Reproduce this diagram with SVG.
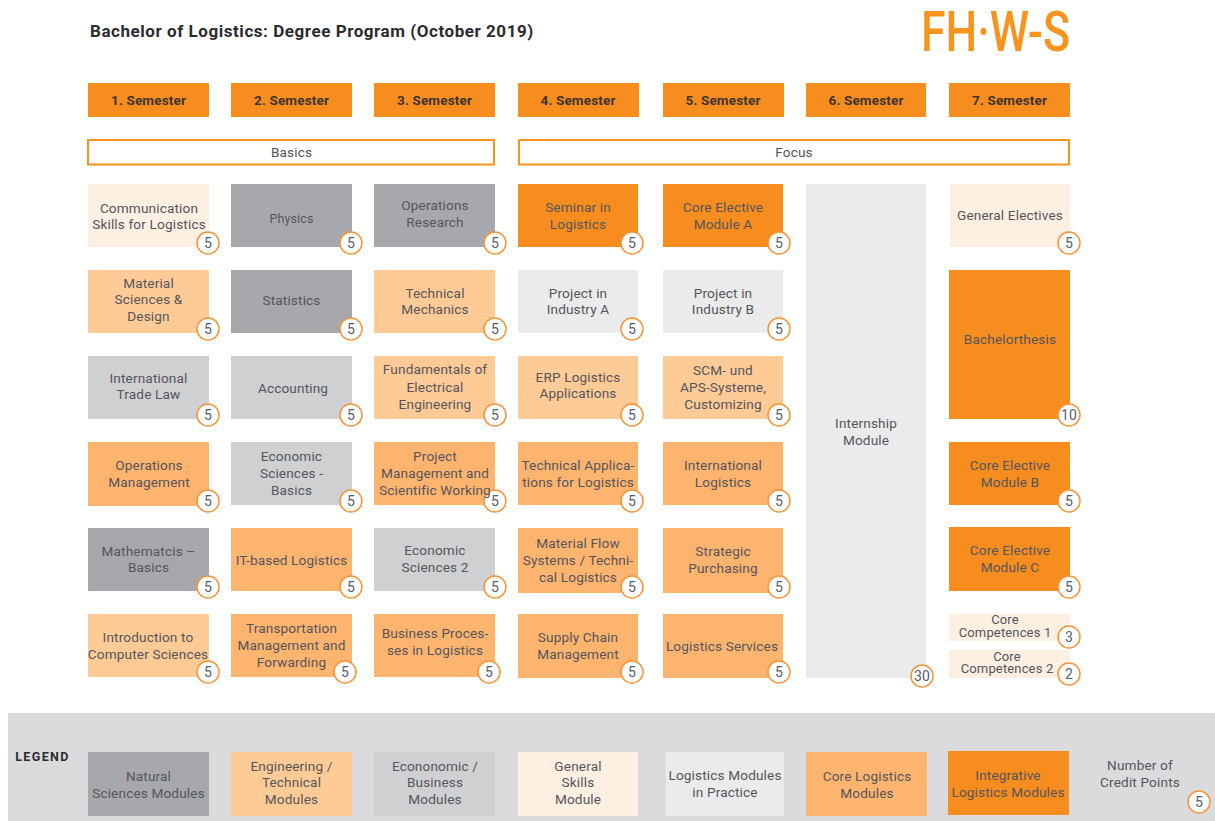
<svg xmlns="http://www.w3.org/2000/svg" width="1215" height="821" viewBox="0 0 1215 821">
<style>
text{font-family:Roboto,"Liberation Sans",sans-serif;text-anchor:middle;font-size:13.6px;fill:#55555c;letter-spacing:.15px}
.sem rect{fill:#f78d1e}.sem text{font-weight:700;font-size:13.5px;fill:#40342c}
.band rect{fill:#fff;stroke:#f7941e;stroke-width:2}
.g1{fill:#a7a8ab}.g2{fill:#cfd0d2}.g3{fill:#ebebeb}.o1{fill:#fecb96}.o2{fill:#fdb46f}.o3{fill:#f78d1e}.p{fill:#fdf0e2}
.b circle{fill:#fff;stroke:#f7943a;stroke-width:1.5}
.b text{font-size:14px;fill:#55606e}
.cc{font-size:13px}
</style>
<rect id="legend-band" x="8" y="713" width="1207" height="108" fill="#dbdbdd"/>
<text id="title" x="90" y="37" style="text-anchor:start;font-weight:700;font-size:17px;letter-spacing:.55px;fill:#2b2b30">Bachelor of Logistics: Degree Program (October 2019)</text>
<g id="logo"><text x="921" y="51" textLength="149" lengthAdjust="spacingAndGlyphs" style="text-anchor:start;font-size:56px;font-weight:500;fill:#f7941e;letter-spacing:0">FH·W-S</text></g>

<g id="sem1" class="sem"><rect x="88" y="83" width="121" height="34"/><text x="148.5" y="105">1. Semester</text></g>
<g id="sem2" class="sem"><rect x="231" y="83" width="121" height="34"/><text x="291.5" y="105">2. Semester</text></g>
<g id="sem3" class="sem"><rect x="374" y="83" width="121" height="34"/><text x="434.5" y="105">3. Semester</text></g>
<g id="sem4" class="sem"><rect x="518" y="83" width="121" height="34"/><text x="578" y="105">4. Semester</text></g>
<g id="sem5" class="sem"><rect x="663" y="83" width="121" height="34"/><text x="723" y="105">5. Semester</text></g>
<g id="sem6" class="sem"><rect x="806" y="83" width="120" height="34"/><text x="866" y="105">6. Semester</text></g>
<g id="sem7" class="sem"><rect x="949" y="83" width="121" height="34"/><text x="1009.5" y="105">7. Semester</text></g>

<g id="basics" class="band"><rect x="88" y="140" width="406" height="24.5"/><text x="291.5" y="157">Basics</text></g>
<g id="focus" class="band"><rect x="519" y="140" width="550" height="24.5"/><text x="794" y="157">Focus</text></g>

<g id="communication"><rect class="p" x="88" y="184" width="121" height="63"/><text x="149" y="213">Communication</text><text x="149" y="229">Skills for Logistics</text><g class="b"><circle cx="208" cy="243" r="11"/><text x="208" y="248">5</text></g></g>
<g id="material-sciences"><rect class="o1" x="88" y="270" width="121" height="63"/><text x="148.5" y="288">Material</text><text x="148.5" y="304">Sciences &amp;</text><text x="148.5" y="321">Design</text><g class="b"><circle cx="208" cy="329" r="11"/><text x="208" y="334">5</text></g></g>
<g id="trade-law"><rect class="g2" x="88" y="356" width="121" height="63"/><text x="148.5" y="383">International</text><text x="148.5" y="399">Trade Law</text><g class="b"><circle cx="208" cy="415" r="11"/><text x="208" y="420">5</text></g></g>
<g id="operations-management"><rect class="o2" x="88" y="442" width="121" height="64"/><text x="149" y="470">Operations</text><text x="149" y="487">Management</text><g class="b"><circle cx="208" cy="501" r="11"/><text x="208" y="506">5</text></g></g>
<g id="mathematics"><rect class="g1" x="88" y="528" width="121" height="63"/><text x="148.5" y="556">Mathematcis –</text><text x="148.5" y="572">Basics</text><g class="b"><circle cx="208" cy="587" r="11"/><text x="208" y="592">5</text></g></g>
<g id="computer-sciences"><rect class="o1" x="88" y="614" width="121" height="63"/><text x="148" y="642">Introduction to</text><text x="148" y="659">Computer Sciences</text><g class="b"><circle cx="208" cy="672" r="11"/><text x="208" y="677">5</text></g></g>

<g id="physics"><rect class="g1" x="231" y="184" width="121" height="63"/><text x="291.5" y="223" style="font-size:12.5px">Physics</text><g class="b"><circle cx="351" cy="243" r="11"/><text x="351" y="248">5</text></g></g>
<g id="statistics"><rect class="g1" x="231" y="270" width="121" height="63"/><text x="291.5" y="305">Statistics</text><g class="b"><circle cx="351" cy="329" r="11"/><text x="351" y="334">5</text></g></g>
<g id="accounting"><rect class="g2" x="231" y="356" width="121" height="63"/><text x="293" y="393">Accounting</text><g class="b"><circle cx="351" cy="415" r="11"/><text x="351" y="420">5</text></g></g>
<g id="economic-basics"><rect class="g2" x="231" y="442" width="121" height="63"/><text x="291.5" y="461">Economic</text><text x="291.5" y="478">Sciences -</text><text x="291.5" y="495">Basics</text><g class="b"><circle cx="351" cy="501" r="11"/><text x="351" y="506">5</text></g></g>
<g id="it-logistics"><rect class="o2" x="231" y="528" width="121" height="63"/><text x="291.5" y="565">IT-based Logistics</text><g class="b"><circle cx="351" cy="587" r="11"/><text x="351" y="592">5</text></g></g>
<g id="transportation"><rect class="o2" x="231" y="614" width="121" height="63"/><text x="291.5" y="633">Transportation</text><text x="291.5" y="650">Management and</text><text x="291.5" y="667">Forwarding</text><g class="b"><circle cx="345" cy="672" r="11"/><text x="345" y="677">5</text></g></g>

<g id="operations-research"><rect class="g1" x="374" y="184" width="121" height="63"/><text x="435" y="210">Operations</text><text x="435" y="227">Research</text><g class="b"><circle cx="495" cy="243" r="11"/><text x="495" y="248">5</text></g></g>
<g id="technical-mechanics"><rect class="o1" x="374" y="270" width="121" height="63"/><text x="435" y="298">Technical</text><text x="435" y="314">Mechanics</text><g class="b"><circle cx="495" cy="329" r="11"/><text x="495" y="334">5</text></g></g>
<g id="electrical-engineering"><rect class="o1" x="374" y="356" width="121" height="63"/><text x="435" y="374">Fundamentals of</text><text x="435" y="392">Electrical</text><text x="435" y="409">Engineering</text><g class="b"><circle cx="495" cy="415" r="11"/><text x="495" y="420">5</text></g></g>
<g id="project-management"><rect class="o2" x="374" y="442" width="121" height="63"/><g class="b"><circle cx="495" cy="501" r="11"/><text x="495" y="506">5</text></g><text x="435" y="461">Project</text><text x="435" y="478">Management and</text><text x="435" y="495">Scientific Working</text></g>
<g id="economic-2"><rect class="g2" x="374" y="528" width="121" height="63"/><text x="435" y="555">Economic</text><text x="435" y="572">Sciences 2</text><g class="b"><circle cx="495" cy="587" r="11"/><text x="495" y="592">5</text></g></g>
<g id="business-processes"><rect class="o2" x="374" y="614" width="121" height="63"/><text x="435" y="638">Business Proces-</text><text x="435" y="655">ses in Logistics</text><g class="b"><circle cx="489" cy="672" r="11"/><text x="489" y="677">5</text></g></g>

<g id="seminar"><rect class="o3" x="518" y="184" width="120" height="63"/><text x="578" y="212">Seminar in</text><text x="578" y="229">Logistics</text><g class="b"><circle cx="632" cy="243" r="11"/><text x="632" y="248">5</text></g></g>
<g id="project-a"><rect class="g3" x="518" y="270" width="120" height="63"/><text x="578" y="298">Project in</text><text x="578" y="314">Industry A</text><g class="b"><circle cx="632" cy="329" r="11"/><text x="632" y="334">5</text></g></g>
<g id="erp"><rect class="o1" x="518" y="356" width="120" height="63"/><text x="578" y="382">ERP Logistics</text><text x="578" y="398">Applications</text><g class="b"><circle cx="632" cy="415" r="11"/><text x="632" y="420">5</text></g></g>
<g id="technical-applications"><rect class="o2" x="518" y="442" width="120" height="63"/><text x="578" y="470">Technical Applica-</text><text x="578" y="487">tions for Logistics</text><g class="b"><circle cx="632" cy="501" r="11"/><text x="632" y="506">5</text></g></g>
<g id="material-flow"><rect class="o2" x="518" y="528" width="120" height="65"/><g class="b"><circle cx="632" cy="587" r="11"/><text x="632" y="592">5</text></g><text x="578" y="548">Material Flow</text><text x="578" y="565">Systems / Techni-</text><text x="578" y="582">cal Logistics</text></g>
<g id="supply-chain"><rect class="o2" x="518" y="614" width="120" height="64"/><text x="578" y="642">Supply Chain</text><text x="578" y="659">Management</text><g class="b"><circle cx="632" cy="672" r="11"/><text x="632" y="677">5</text></g></g>

<g id="elective-a"><rect class="o3" x="663" y="184" width="120" height="63"/><text x="723" y="212">Core Elective</text><text x="723" y="229">Module A</text><g class="b"><circle cx="779" cy="243" r="11"/><text x="779" y="248">5</text></g></g>
<g id="project-b"><rect class="g3" x="663" y="270" width="120" height="63"/><text x="723" y="298">Project in</text><text x="723" y="314">Industry B</text><g class="b"><circle cx="779" cy="329" r="11"/><text x="779" y="334">5</text></g></g>
<g id="scm"><rect class="o1" x="663" y="356" width="120" height="63"/><text x="723" y="375">SCM- und</text><text x="723" y="392">APS-Systeme,</text><text x="723" y="409">Customizing</text><g class="b"><circle cx="779" cy="415" r="11"/><text x="779" y="420">5</text></g></g>
<g id="international-logistics"><rect class="o2" x="663" y="442" width="120" height="63"/><text x="723" y="470">International</text><text x="723" y="487">Logistics</text><g class="b"><circle cx="779" cy="501" r="11"/><text x="779" y="506">5</text></g></g>
<g id="purchasing"><rect class="o2" x="663" y="528" width="120" height="65"/><text x="723" y="556">Strategic</text><text x="723" y="573">Purchasing</text><g class="b"><circle cx="779" cy="587" r="11"/><text x="779" y="592">5</text></g></g>
<g id="logistics-services"><rect class="o2" x="663" y="614" width="120" height="64"/><text x="722" y="651">Logistics Services</text><g class="b"><circle cx="779" cy="672" r="11"/><text x="779" y="677">5</text></g></g>

<g id="internship"><rect class="g3" x="806" y="184" width="120" height="494"/><text x="866" y="428">Internship</text><text x="866" y="445">Module</text><g class="b"><circle cx="922" cy="676" r="11"/><text x="922" y="681">30</text></g></g>

<g id="general-electives"><rect class="p" x="950" y="184" width="120" height="63"/><text x="1010" y="220">General Electives</text><g class="b"><circle cx="1069" cy="243" r="11"/><text x="1069" y="248">5</text></g></g>
<g id="bachelorthesis"><rect class="o3" x="949" y="270" width="121" height="149"/><text x="1010" y="344">Bachelorthesis</text><g class="b"><circle cx="1069" cy="415" r="11"/><text x="1069" y="420">10</text></g></g>
<g id="elective-b"><rect class="o3" x="949" y="442" width="121" height="63"/><text x="1010" y="470">Core Elective</text><text x="1010" y="487">Module B</text><g class="b"><circle cx="1069" cy="501" r="11"/><text x="1069" y="506">5</text></g></g>
<g id="elective-c"><rect class="o3" x="949" y="527" width="121" height="64"/><text x="1010" y="555">Core Elective</text><text x="1010" y="572">Module C</text><g class="b"><circle cx="1069" cy="587" r="11"/><text x="1069" y="592">5</text></g></g>
<g id="competences-1"><rect class="p" x="949" y="614" width="121" height="27"/><text class="cc"><tspan x="1005" y="624">Core</tspan><tspan x="1005" y="637">Competences 1</tspan></text><g class="b"><circle cx="1069" cy="637" r="11"/><text x="1069" y="642">3</text></g></g>
<g id="competences-2"><rect class="p" x="949" y="650" width="121" height="28"/><text class="cc"><tspan x="1007" y="661">Core</tspan><tspan x="1007" y="673">Competences 2</tspan></text><g class="b"><circle cx="1069" cy="674" r="11"/><text x="1069" y="679">2</text></g></g>

<g id="legend">
<text x="42.500" y="761" style="font-weight:700;font-size:12.5px;letter-spacing:1.4px;fill:#2b2b30">LEGEND</text>
<g id="legend-natural"><rect class="g1" x="88" y="752" width="121" height="64"/><text x="148.5" y="781">Natural</text><text x="148.5" y="798">Sciences Modules</text></g>
<g id="legend-engineering"><rect class="o1" x="231" y="752" width="121" height="64"/><text x="291.5" y="771">Engineering /</text><text x="291.5" y="787">Technical</text><text x="291.5" y="804">Modules</text></g>
<g id="legend-economic"><rect class="g2" x="374" y="752" width="121" height="64"/><text x="435" y="771">Econonomic /</text><text x="435" y="787">Business</text><text x="435" y="804">Modules</text></g>
<g id="legend-general"><rect class="p" x="518" y="752" width="120" height="64"/><text x="578" y="771">General</text><text x="578" y="787">Skills</text><text x="578" y="804">Module</text></g>
<g id="legend-practice"><rect class="g3" x="666" y="752" width="118" height="64"/><text x="725" y="780">Logistics Modules</text><text x="725" y="797">in Practice</text></g>
<g id="legend-core"><rect class="o2" x="806" y="752" width="121" height="64"/><text x="867" y="781">Core Logistics</text><text x="867" y="798">Modules</text></g>
<g id="legend-integrative"><rect class="o3" x="948" y="751" width="121" height="64"/><text x="1008" y="780">Integrative</text><text x="1008" y="797">Logistics Modules</text></g>
<g id="legend-credits"><text x="1140" y="770">Number of</text><text x="1140" y="787">Credit Points</text><g class="b"><circle cx="1199" cy="802" r="11"/><text x="1199" y="807">5</text></g></g>
</g>
</svg>
